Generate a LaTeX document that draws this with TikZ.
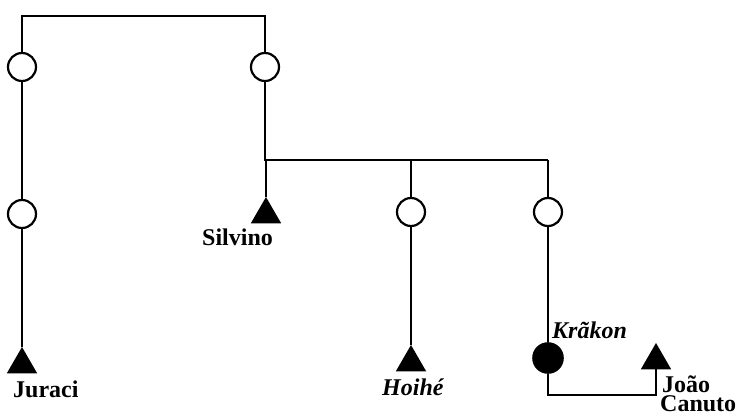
\documentclass[tikz,border=0pt]{standalone}
\usepackage{fontspec}
\setmainfont{Liberation Serif}
\usetikzlibrary{shapes.geometric}
\begin{document}
\begin{tikzpicture}[x=1pt,y=-1pt,
  line/.style={line width=2.8pt},
  female/.style={circle,draw,line width=2.2pt,minimum size=28pt,inner sep=0pt,fill=white},
  ffemale/.style={circle,draw,line width=1.6pt,minimum size=30pt,inner sep=0pt,fill=black},
  male/.style={regular polygon,regular polygon sides=3,fill=black,minimum size=35pt,inner sep=0pt},
  lbl/.style={font=\fontsize{24}{18}\selectfont\bfseries,inner sep=0pt},
  ilbl/.style={font=\fontsize{24}{18}\selectfont\bfseries\itshape,inner sep=0pt}]
\useasboundingbox (0,0) rectangle (745,415);
% nodes
\node[female] (lt) at (22,67) {};
\node[female] (rt) at (265,67) {};
\node[female] (lb) at (22,214) {};
\node[male] (jur) at (22,364.5) {};
\node[male] (sil) at (266,214.5) {};
\node[female] (hc) at (411,212) {};
\node[male] (hoi) at (411,362.5) {};
\node[female] (rc) at (548,212) {};
\node[ffemale] (kr) at (548,358) {};
\node[male] (jc) at (656,360.5) {};
% coordinates
\coordinate (c1) at (22,16);
\coordinate (c2) at (265,16);
\coordinate (s1) at (265,160);
\coordinate (s2) at (411,160);
\coordinate (s3) at (548,160);
\coordinate (k1) at (548,395);
\coordinate (k2) at (656,395);
% connectors
\draw[line] (lt) -- (c1) -- (c2) -- (rt);
\draw[line] (lt) -- (lb);
\draw[line] (lb) -- (jur);
\draw[line] (rt) -- (s1) -- (266,160) -- (sil);
\draw[line] (s1) -- (s3);
\draw[line] (s2) -- (hc);
\draw[line] (hc) -- (hoi);
\draw[line] (s3) -- (rc);
\draw[line] (rc) -- (kr);
\draw[line] (kr) -- (k1) -- (k2) -- (jc);
% labels
\node[lbl,anchor=base west] (tjur) at (13,397) {Juraci};
\node[lbl,anchor=base west] (tsil) at (202,245) {Silvino};
\node[ilbl,anchor=base west] (thoi) at (382,395) {Hoihé};
\node[ilbl,anchor=base west] (tkr) at (552,338) {Krãkon};
\node[lbl,anchor=base west] (tjo) at (662,392) {João};
\node[lbl,anchor=base west] (tca) at (660,411) {Canuto};
\end{tikzpicture}
\end{document}
